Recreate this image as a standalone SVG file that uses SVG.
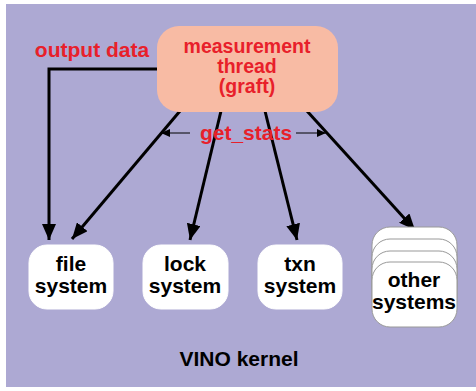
<svg xmlns="http://www.w3.org/2000/svg" width="476" height="391" viewBox="0 0 476 391">
<style>
text{font-family:"Liberation Sans",Arial,sans-serif;font-weight:bold;font-size:21px;text-anchor:middle}
.red{fill:#E8202A}
.g{font-size:19.5px}
.blk{fill:#000}
.sys{fill:#fff;stroke:#fff}
.card{fill:#fff;stroke:#999;stroke-width:1}
.conn{stroke:#000;stroke-width:3;fill:none}
.thin{stroke:#000;stroke-width:1;fill:none}
</style>
<defs>
<marker id="ah" markerUnits="userSpaceOnUse" markerWidth="18" markerHeight="14" refX="16" refY="7" orient="auto">
<path d="M0,0 L16,7 L0,14 Z" fill="#000"/>
</marker>
<marker id="sh" markerUnits="userSpaceOnUse" markerWidth="10" markerHeight="8" refX="9" refY="4" orient="auto">
<path d="M0,0 L9,4 L0,8 Z" fill="#000"/>
</marker>
</defs>
<rect x="6" y="4" width="470" height="383" fill="#ADA9D3"/>
<g id="connectors">
<polyline class="conn" points="157,69 49,69 49,240" marker-end="url(#ah)"/>
<line class="conn" x1="180" y1="111" x2="72" y2="239" marker-end="url(#ah)"/>
<line class="conn" x1="221" y1="111" x2="190" y2="240" marker-end="url(#ah)"/>
<line class="conn" x1="265" y1="111" x2="297" y2="240" marker-end="url(#ah)"/>
<line class="conn" x1="307" y1="111" x2="415" y2="230" marker-end="url(#ah)"/>
<line class="thin" x1="190" y1="133" x2="161" y2="133" marker-end="url(#sh)"/>
<line class="thin" x1="296" y1="133" x2="326" y2="133" marker-end="url(#sh)"/>
<text class="red" x="246" y="140">get_stats</text>
<text class="red" x="92" y="57">output data</text>
</g>
<g id="graft">
<rect x="157" y="26" width="181" height="86" rx="22" fill="#F8BBA4"/>
<text class="red g" x="247" y="53">measurement</text>
<text class="red g" x="247" y="73">thread</text>
<text class="red g" x="247" y="93">(graft)</text>
</g>
<g id="file">
<rect class="sys" x="29" y="245" width="84" height="64" rx="18"/>
<text class="blk" x="71" y="271">file</text>
<text class="blk" x="71" y="293">system</text>
</g>
<g id="lock">
<rect class="sys" x="143" y="245" width="85" height="64" rx="18"/>
<text class="blk" x="185" y="271">lock</text>
<text class="blk" x="185" y="293">system</text>
</g>
<g id="txn">
<rect class="sys" x="258" y="245" width="84" height="64" rx="18"/>
<text class="blk" x="300" y="271">txn</text>
<text class="blk" x="300" y="293">system</text>
</g>
<g id="other">
<rect class="card" x="372" y="227" width="85" height="65" rx="18"/>
<rect class="card" x="372" y="239" width="85" height="65" rx="18"/>
<rect class="card" x="372" y="251" width="85" height="65" rx="18"/>
<rect class="card" x="372" y="262" width="85" height="65" rx="18"/>
<text class="blk" x="414" y="287">other</text>
<text class="blk" x="414" y="309">systems</text>
</g>
<g id="kernel">
<text class="blk" x="239" y="366">VINO kernel</text>
</g>
</svg>
